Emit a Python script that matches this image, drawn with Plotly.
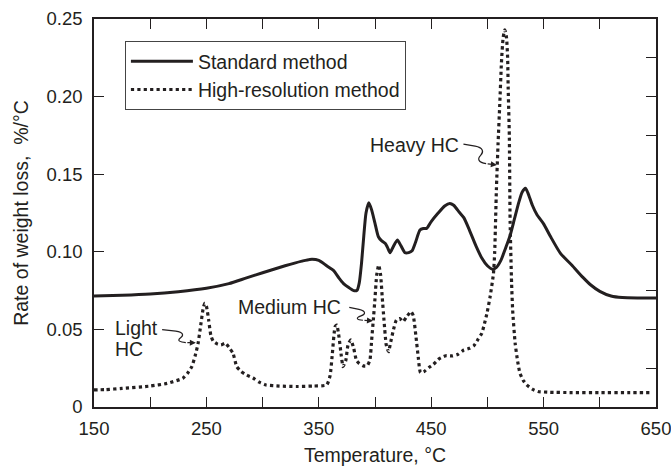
import plotly.graph_objects as go

# ---- data ----
std_T = [150, 175, 200, 225, 250, 270, 285, 300, 320, 335, 342, 350, 357, 363, 368, 372, 377, 381, 384,
         386, 388, 390, 392, 394.5, 397, 400, 403, 406, 409, 411, 413.4, 416, 419.9, 423, 426.7, 430, 433,
         436, 440, 443, 446, 450, 456, 462, 466.5, 470, 475, 479, 484, 490, 495, 500, 504.5, 508, 512, 516,
         520, 524, 528, 531, 533.8, 536, 540, 544, 550, 556, 565, 575, 585, 592, 600, 610, 620, 635, 650]
std_v = [0.0715, 0.0720, 0.0728, 0.0743, 0.0765, 0.0795, 0.0830, 0.0865, 0.0910, 0.0940, 0.0951, 0.0945,
         0.0910, 0.0880, 0.0830, 0.0795, 0.0768, 0.0750, 0.0752, 0.0800, 0.0926, 0.1100, 0.1250, 0.1316,
         0.1270, 0.1183, 0.1097, 0.1070, 0.1055, 0.1030, 0.0994, 0.1030, 0.1076, 0.1040, 0.0994, 0.0995,
         0.1007, 0.1060, 0.1140, 0.1150, 0.1151, 0.1195, 0.1248, 0.1295, 0.1312, 0.1300, 0.1255, 0.1220,
         0.1140, 0.1035, 0.0960, 0.0910, 0.0888, 0.0900, 0.0945, 0.1020, 0.1100, 0.1210, 0.1320, 0.1385,
         0.1410, 0.1380, 0.1300, 0.1240, 0.1180, 0.1100, 0.0990, 0.0915, 0.0835, 0.0786, 0.0745, 0.0715,
         0.0705, 0.0703, 0.0703]

hr_T = [150, 160, 175, 200, 215, 229, 233, 237, 240, 242.6, 245, 247, 248.5, 250, 252, 254, 256, 260, 263,
        267, 270, 273.7, 277, 281, 286, 291.5, 297, 303, 315, 330, 345, 357, 360, 362, 364.5, 366, 368, 370,
        371.6, 374, 376, 378.5, 381, 383.5, 386, 389.6, 393, 395.5, 397, 398.5, 400, 401.5, 403.3, 405,
        406.5, 408, 410, 412, 414, 416.5, 419, 422, 425, 428, 432, 434, 436.5, 438.5, 440.5, 444, 448, 452,
        457, 463, 469, 474, 479, 484, 488, 492, 495, 497.5, 499.5, 502.4, 505.4, 506.5, 508, 509.5, 511,
        512.5, 514, 515.5, 517, 518, 518.5, 519.5, 520.2, 521.5, 522.5, 524.7, 527, 529, 532, 535, 540, 545,
        555, 575, 600, 625, 646]
hr_v = [0.0110, 0.0112, 0.0120, 0.0135, 0.0152, 0.0185, 0.0215, 0.0260, 0.0330, 0.0410, 0.0530, 0.0630,
        0.0668, 0.0650, 0.0560, 0.0460, 0.0425, 0.0405, 0.0400, 0.0412, 0.0385, 0.0346, 0.0260, 0.0228,
        0.0205, 0.0187, 0.0160, 0.0142, 0.0135, 0.0132, 0.0135, 0.0142, 0.0200, 0.0340, 0.0517, 0.0528,
        0.0450, 0.0330, 0.0260, 0.0300, 0.0400, 0.0432, 0.0380, 0.0300, 0.0280, 0.0265, 0.0265, 0.0303,
        0.0430, 0.0560, 0.0700, 0.0850, 0.0915, 0.0850, 0.0700, 0.0560, 0.0400, 0.0356, 0.0420, 0.0500,
        0.0560, 0.0570, 0.0550, 0.0580, 0.0614, 0.0590, 0.0450, 0.0320, 0.0221, 0.0230, 0.0255, 0.0275,
        0.0310, 0.0330, 0.0329, 0.0340, 0.0367, 0.0378, 0.0395, 0.0440, 0.0475, 0.0540, 0.0600, 0.0710,
        0.0860, 0.1000, 0.1400, 0.1700, 0.1950, 0.2220, 0.2380, 0.2430, 0.2380, 0.2250, 0.2050, 0.1750,
        0.1200, 0.0800, 0.0620, 0.0410, 0.0290, 0.0217, 0.0170, 0.0142, 0.0115, 0.0100, 0.0095, 0.0093,
        0.0092, 0.0092, 0.0092]

x_tickvals = [150, 250, 350, 450, 550, 650]
y_tickvals = [0, 0.05, 0.10, 0.15, 0.20, 0.25]
y_ticktext = ["0", "0.05", "0.10", "0.15", "0.20", "0.25"]

INK = "#231f20"
FONT = "Liberation Sans, Arial, sans-serif"
FS = 19.5

fig = go.Figure()
fig.add_trace(go.Scatter(x=std_T, y=std_v, mode="lines", name="Standard method",
                         line=dict(color=INK, width=3, shape="spline", smoothing=0.6),
                         legendgroup="a"))
fig.add_trace(go.Scatter(x=hr_T, y=hr_v, mode="lines", name="High-resolution method",
                         line=dict(color=INK, width=3.2, dash="dot", shape="spline", smoothing=0.5),
                         legendgroup="b"))
# helper trace for the mirrored (top/right) axes
fig.add_trace(go.Scatter(x=[150], y=[0], xaxis="x2", yaxis="y2", mode="markers",
                         marker=dict(opacity=0), showlegend=False, hoverinfo="skip"))

# ---- annotations: label, wavy leader, arrow ----
labels = [
    dict(T=508.4, v=0.156,
         path="M-33.4,20.7 L-21.7,18.7 C-13.7,17.2 -12.7,13 -16.2,9.5 C-19.7,6 -18.7,2.5 -10.7,1.2",
         ax=-10.7, ay=-1.2),
    dict(T=398.2, v=0.0555,
         path="M-23.7,13.5 L-14,11.5 C-7,10 -7,6.8 -12,5 C-18,2.8 -16,1 -10,0.6",
         ax=-10, ay=-0.6),
    dict(T=240.6, v=0.0414,
         path="M-33.7,13.2 L-20,11.7 C-12,10.7 -12,7.2 -15.5,4.7 C-19,2.2 -16,0.5 -10,0.2",
         ax=-10, ay=-0.2),
]
for L in labels:
    fig.add_shape(type="path", xref="x", yref="y", xsizemode="pixel", ysizemode="pixel",
                  xanchor=L["T"], yanchor=L["v"], path=L["path"],
                  line=dict(color=INK, width=1.2))
    fig.add_annotation(x=L["T"], y=L["v"], xref="x", yref="y", text="", showarrow=True,
                       ax=L["ax"], ay=L["ay"], arrowhead=2, arrowsize=1, arrowwidth=1.2,
                       arrowcolor=INK)

txt_font = dict(family=FONT, size=FS, color=INK)
fig.add_annotation(x=476.8, y=0.1688, text="Heavy HC", showarrow=False, xanchor="right",
                   yanchor="middle", font=txt_font)
fig.add_annotation(x=371.4, y=0.0646, text="Medium HC", showarrow=False, xanchor="right",
                   yanchor="middle", font=txt_font)
fig.add_annotation(x=167.0, y=0.0507, text="Light", showarrow=False, xanchor="left",
                   yanchor="middle", font=txt_font)
fig.add_annotation(x=167.0, y=0.0372, text="HC", showarrow=False, xanchor="left",
                   yanchor="middle", font=txt_font)

axis_common = dict(showline=True, linecolor=INK, linewidth=1.5, ticks="inside", ticklen=10,
                   tickwidth=1.3, tickcolor=INK, showgrid=False, zeroline=False, automargin=False)

fig.update_layout(
    width=671, height=466,
    margin=dict(l=94, r=15, t=19, b=59, autoexpand=False),
    paper_bgcolor="white", plot_bgcolor="white",
    font=dict(family=FONT, size=FS, color=INK),
    showlegend=True,
    legend=dict(x=0.055, y=0.9433, xanchor="left", yanchor="top", bgcolor="white",
                bordercolor="#444", borderwidth=1, font=dict(size=FS, family=FONT, color=INK),
                itemwidth=62, traceorder="grouped", tracegroupgap=0),
    xaxis=dict(range=[150, 650], tickvals=x_tickvals, ticktext=[str(t) for t in x_tickvals],
               minor=dict(dtick=50, tick0=150, ticks="inside", ticklen=10, tickwidth=1.3,
                          tickcolor=INK, showgrid=False),
               tickfont=dict(size=18.5), ticklabelstandoff=4, ticklabeloverflow="allow",
               title=dict(text="Temperature, °C", font=dict(size=FS), standoff=13),
               **axis_common),
    yaxis=dict(range=[0, 0.25], tickvals=y_tickvals, ticktext=y_ticktext,
               tickfont=dict(size=18.5), ticklabelstandoff=6,
               title=dict(text="Rate of weight loss,  %/°C", font=dict(size=FS), standoff=13),
               **axis_common),
    xaxis2=dict(range=[150, 650], overlaying="x", side="top", anchor="y2", tick0=150, dtick=50,
                showticklabels=False, **axis_common),
    yaxis2=dict(range=[0, 0.25], overlaying="y", side="right", anchor="x2", tick0=0, dtick=0.025,
                showticklabels=False, **axis_common),
)

# remove the page's default body margin so the figure sits at the window origin
fig.write_html("out.html", config={"displayModeBar": False},
               post_script="document.body.style.margin='0px';")
